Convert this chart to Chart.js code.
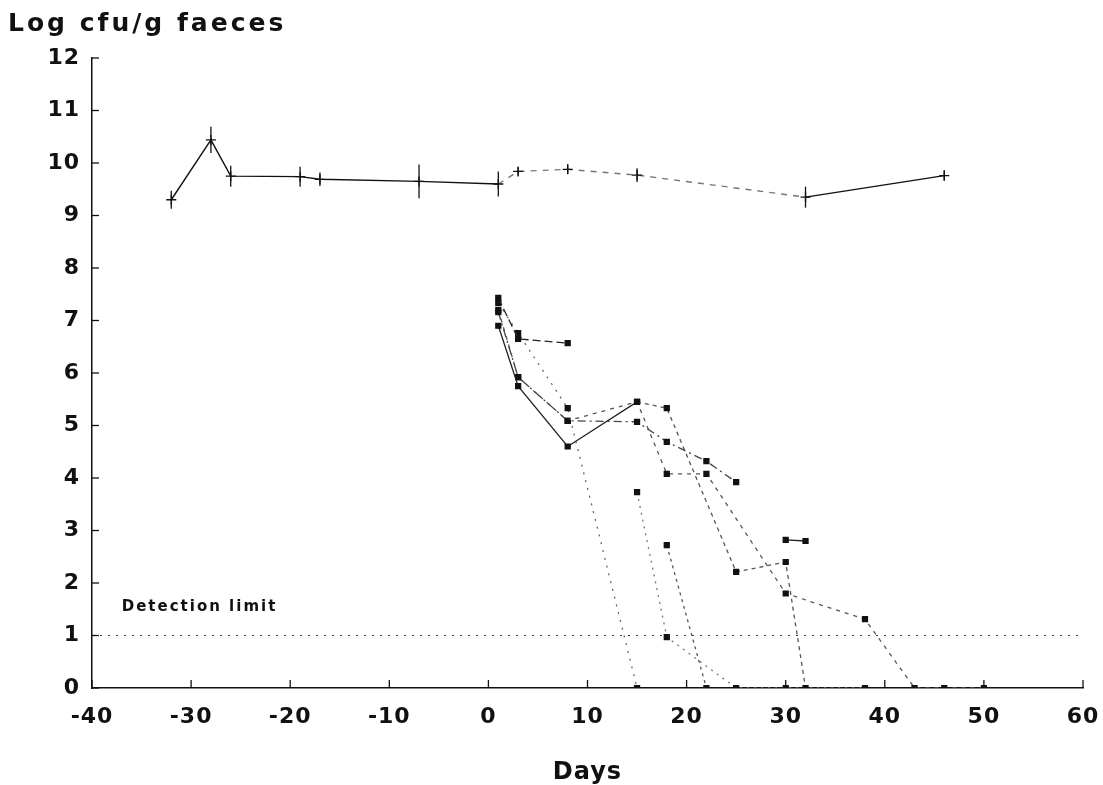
<!DOCTYPE html>
<html>
<head>
<meta charset="utf-8">
<script src="https://cdn.jsdelivr.net/npm/chart.js@4.4.0/dist/chart.umd.min.js"></script>
<style>
  body { margin: 0; background: #fff; }
  #wrap { width: 1103px; height: 785px; }
</style>
</head>
<body>
<div id="wrap"><canvas id="chart" width="1103" height="785"></canvas></div>
<script>
// total counts (mean +/- error)
const topDays = [-32, -28, -26, -19, -17, -7, 1, 3, 8, 15, 32, 46];
const topMean = [9.3, 10.44, 9.75, 9.74, 9.69, 9.65, 9.6, 9.84, 9.88, 9.77, 9.35, 9.76];
const topErr = [0.17, 0.25, 0.2, 0.19, 0.13, 0.32, 0.24, 0.08, 0.09, 0.13, 0.2, 0.1];

// individual strain counts
const daysA = [1, 3, 8];
const valsA = [7.43, 6.65, 6.57];
const daysB = [1, 3, 8, 15, 18, 25, 30, 32];
const valsB = [6.9, 5.75, 4.6, 5.45, 5.33, 2.21, 2.4, 0];
const daysC = [1, 3, 8, 15];
const valsC = [7.33, 6.76, 5.33, 0];
const daysD = [1, 3, 8, 15, 18, 22, 25];
const valsD = [7.16, 5.92, 5.09, 5.07, 4.69, 4.32, 3.92];
const daysE = [1, 3, 8, 15, 18, 22, 30, 38, 43, 46, 50];
const valsE = [7.2, 5.92, 5.09, 5.45, 4.08, 4.08, 1.8, 1.31, 0, 0, 0];
const daysF = [15, 18, 25, 30, 38];
const valsF = [3.73, 0.97, 0, 0, 0];
const daysG = [18, 22];
const valsG = [2.72, 0];
const daysH = [30, 32];
const valsH = [2.82, 2.8];

const detectionLimit = 1;
const xTicks = [-40, -30, -20, -10, 0, 10, 20, 30, 40, 50, 60];
const yTicks = [0, 1, 2, 3, 4, 5, 6, 7, 8, 9, 10, 11, 12];

const FONT = "'DejaVu Sans', sans-serif";

const pts = (xs, ys) => xs.map((x, i) => ({ x: x, y: ys[i] }));

function strain(xs, ys, color, dash) {
    return {
        data: pts(xs, ys),
        borderColor: color,
        backgroundColor: '#111',
        borderWidth: 1.3,
        borderDash: dash,
        pointStyle: 'rect',
        pointRadius: 3.5,
        pointBorderColor: '#111',
        pointBackgroundColor: '#111',
        showLine: true,
        tension: 0
    };
}

const extras = {
    id: 'extras',
    beforeDraw(chart) {
        chart.ctx.letterSpacing = '1px';
    },
    beforeDatasetsDraw(chart) {
        chart.ctx.letterSpacing = '0px';
    },
    afterDatasetsDraw(chart) {
        const { ctx, scales: { x, y } } = chart;
        ctx.save();
        ctx.strokeStyle = '#111';
        ctx.lineWidth = 1.3;
        // error bars on total counts
        topDays.forEach((d, i) => {
            const px = x.getPixelForValue(d);
            ctx.beginPath();
            ctx.moveTo(px, y.getPixelForValue(topMean[i] - topErr[i]));
            ctx.lineTo(px, y.getPixelForValue(topMean[i] + topErr[i]));
            ctx.stroke();
        });
        // inward tick marks
        const left = x.getPixelForValue(-40);
        const base = y.getPixelForValue(0);
        yTicks.forEach(v => {
            const py = y.getPixelForValue(v);
            ctx.beginPath();
            ctx.moveTo(left, py);
            ctx.lineTo(left + 7, py);
            ctx.stroke();
        });
        xTicks.forEach(v => {
            const px = x.getPixelForValue(v);
            ctx.beginPath();
            ctx.moveTo(px, base);
            ctx.lineTo(px, base - 8);
            ctx.stroke();
        });
        ctx.fillStyle = '#111';
        ctx.textBaseline = 'middle';
        ctx.letterSpacing = '2px';
        ctx.font = 'bold 15px ' + FONT;
        ctx.fillText('Detection limit', x.getPixelForValue(-37), y.getPixelForValue(1.55));
        // chart heading
        ctx.textBaseline = 'alphabetic';
        ctx.letterSpacing = '3px';
        ctx.font = 'bold 25px ' + FONT;
        ctx.fillText('Log cfu/g faeces', 8, 31);
        ctx.restore();
    }
};

new Chart(document.getElementById('chart'), {
    type: 'scatter',
    data: {
        datasets: [
            {
                data: pts([-40, 60], [detectionLimit, detectionLimit]),
                showLine: true,
                borderColor: '#333',
                borderWidth: 1.2,
                borderDash: [2, 6],
                pointRadius: 0
            },
            {
                data: pts(topDays, topMean),
                showLine: true,
                borderColor: '#111',
                borderWidth: 1.4,
                pointStyle: 'cross',
                pointRadius: 5,
                pointBorderColor: '#111',
                pointBorderWidth: 1.3,
                segment: {
                    borderDash: c => (c.p0.parsed.x >= 1 && c.p1.parsed.x <= 32) ? [6, 6] : undefined,
                    borderColor: c => (c.p0.parsed.x >= 1 && c.p1.parsed.x <= 32) ? '#777' : undefined
                }
            },
            strain(daysA, valsA, '#222', [8, 4]),
            Object.assign(strain(daysB, valsB, '#222', []), {
                segment: {
                    borderDash: c => c.p0.parsed.x >= 15 ? [4, 4] : undefined,
                    borderColor: c => c.p0.parsed.x >= 15 ? '#555' : undefined
                }
            }),
            strain(daysC, valsC, '#666', [2, 6]),
            strain(daysD, valsD, '#444', [8, 4, 2, 4]),
            strain(daysE, valsE, '#555', [4, 5]),
            strain(daysF, valsF, '#777', [2, 5]),
            strain(daysG, valsG, '#555', [3, 4]),
            strain(daysH, valsH, '#222', [])
        ]
    },
    options: {
        responsive: false,
        animation: false,
        layout: { padding: { left: 8, right: 20, top: 58, bottom: 0 } },
        plugins: {
            legend: { display: false },
            tooltip: { enabled: false },
            title: { display: false }
        },
        scales: {
            x: {
                type: 'linear',
                min: -40,
                max: 60,
                afterBuildTicks: s => { s.ticks = xTicks.map(v => ({ value: v })); },
                afterFit: s => { s.height = 97; s.paddingLeft = 0; s.paddingRight = 0; },
                grid: { display: false, drawTicks: false },
                border: { display: true, color: '#111', width: 1.5 },
                ticks: {
                    color: '#111',
                    padding: 16,
                    maxRotation: 0,
                    font: { family: FONT, size: 22, weight: 'bold' }
                },
                title: {
                    display: true,
                    text: 'Days',
                    color: '#111',
                    font: { family: FONT, size: 24, weight: 'bold' },
                    padding: { top: 0, bottom: -2 }
                }
            },
            y: {
                type: 'linear',
                min: 0,
                max: 12,
                afterBuildTicks: s => { s.ticks = yTicks.map(v => ({ value: v })); },
                afterFit: s => { s.width = 84; s.paddingTop = 0; s.paddingBottom = 0; },
                grid: { display: false, drawTicks: false },
                border: { display: true, color: '#111', width: 1.5 },
                ticks: {
                    color: '#111',
                    padding: 12,
                    font: { family: FONT, size: 22, weight: 'bold' }
                }
            }
        }
    },
    plugins: [extras]
});
</script>
</body>
</html>
